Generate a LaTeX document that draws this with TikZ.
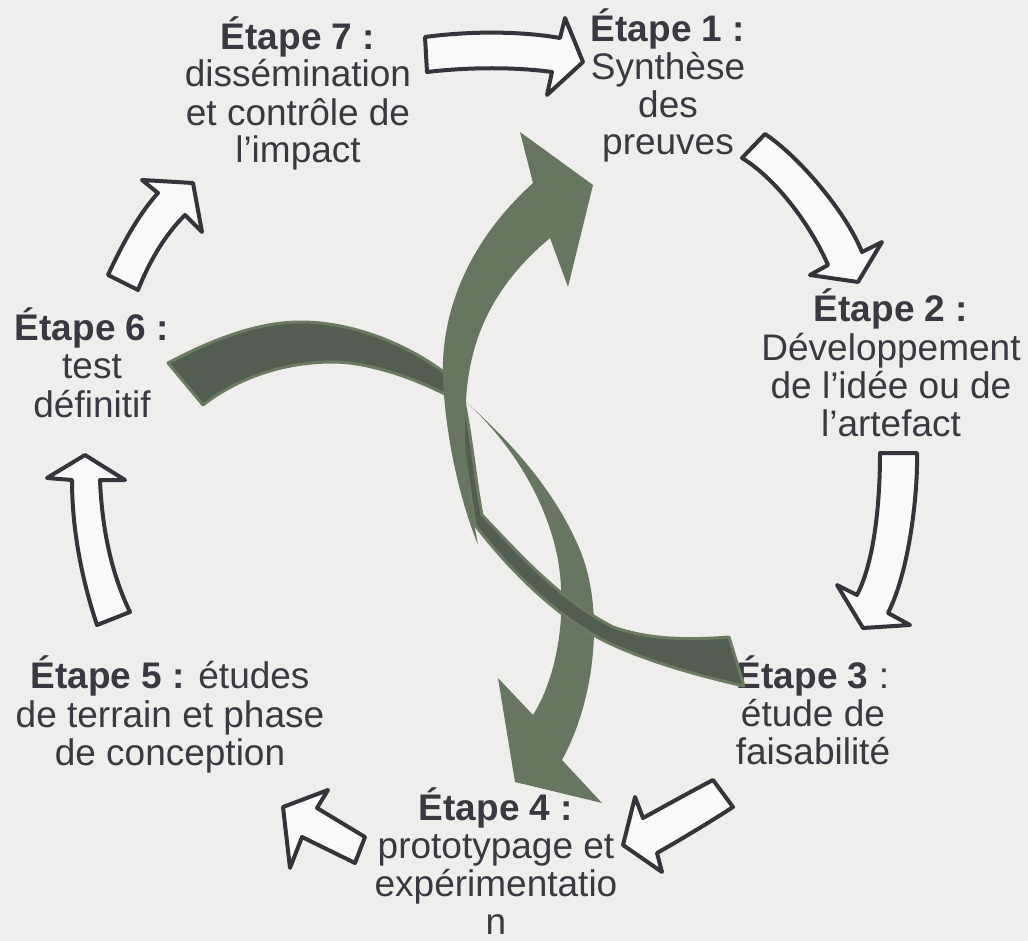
\documentclass[tikz,border=0pt]{standalone}
\usepackage{fontspec}
\setmainfont{Liberation Sans}
\definecolor{bgc}{RGB}{239,238,236}
\definecolor{txt}{RGB}{58,56,64}
\definecolor{arrline}{RGB}{54,52,58}
\definecolor{arrfill}{RGB}{249,249,249}
\definecolor{lgreen}{RGB}{102,118,96}
\definecolor{dgreen}{RGB}{82,94,79}
\definecolor{edgegreen}{RGB}{106,123,98}
\begin{document}
\begin{tikzpicture}[x=1pt,y=-1pt,
  lbl/.style={anchor=base,inner sep=0pt,text=txt,font=\fontsize{37}{38}\selectfont},
  blbl/.style={lbl,font=\fontsize{37}{38}\selectfont\bfseries},
  warrow/.style={draw=arrline,fill=arrfill,line width=4pt,line join=round},
  greenband/.style={fill=lgreen},
  ribbon/.style={fill=dgreen,draw=edgegreen,line width=3pt,line join=round}]
\useasboundingbox (0,0) rectangle (1028,941);
\fill[bgc] (0,0) rectangle (1028,941);

% Step 7
\node[blbl] (s7a) at (298,50) {Étape 7 :};
\node[lbl] (s7b) at (298,87) {dissémination};
\node[lbl] (s7c) at (298,126) {et contrôle de};
\node[lbl] (s7d) at (298,163) {l’impact};
% Step 1
\node[blbl] (s1a) at (668,42) {Étape 1 :};
\node[lbl] (s1b) at (668,80) {Synthèse};
\node[lbl] (s1c) at (668,118) {des};
\node[lbl] (s1d) at (668,155) {preuves};
% Step 2
\node[blbl] (s2a) at (891,322) {Étape 2 :};
\node[lbl] (s2b) at (891,360) {Développement};
\node[lbl] (s2c) at (891,398) {de l’idée ou de};
\node[lbl] (s2d) at (891,436) {l’artefact};
% Step 3
\node[lbl] (s3a) at (813,688) {{\bfseries Étape 3} :};
\node[lbl] (s3b) at (813,726) {étude de};
\node[lbl] (s3c) at (813,764) {faisabilité};
% Step 4
\node[blbl] (s4a) at (496,820) {Étape 4 :};
\node[lbl] (s4b) at (496,858) {prototypage et};
\node[lbl] (s4c) at (496,896) {expérimentatio};
\node[lbl] (s4d) at (496,934) {n};
% Step 5
\node[lbl] (s5a) at (170,688) {{\bfseries Étape 5 :} études};
\node[lbl] (s5b) at (170,727) {de terrain et phase};
\node[lbl] (s5c) at (170,765) {de conception};
% Step 6
\node[blbl] (s6a) at (92,340) {Étape 6 :};
\node[lbl] (s6b) at (92,378) {test};
\node[lbl] (s6c) at (92,417) {définitif};

% white cycle arrows
\draw[warrow] (425,37) .. controls (470,31) and (520,31) .. (560,38) -- (565,18) -- (583,62) -- (547,95) -- (552,72) .. controls (515,67) and (470,67) .. (427,72) -- cycle;
\draw[warrow] (765,134) .. controls (797,155) and (845,210) .. (862,252) -- (882,242) -- (858,282) -- (810,275) -- (828,265) .. controls (812,228) and (778,180) .. (742,158) -- cycle;
\draw[warrow] (917,453) .. controls (918,490) and (910,570) .. (888,613) -- (910,625) -- (863,628) -- (837,585) -- (857,595) .. controls (875,560) and (880,500) .. (880,453) -- cycle;
\draw[warrow] (713,780) .. controls (690,792) and (665,806) .. (643,818) -- (635,797) -- (623,845) -- (662,872) -- (657,853) .. controls (680,840) and (710,822) .. (733,807) -- cycle;
\draw[warrow] (365,837) -- (317,808) -- (328,790) -- (283,807) -- (290,868) -- (302,837) -- (355,863) -- cycle;
\draw[warrow] (85,455) -- (125,480) -- (100,480) .. controls (102,530) and (112,575) .. (130,612) -- (97,625) .. controls (82,580) and (72,530) .. (72,480) -- (47,478) -- cycle;
\draw[warrow] (193,183) -- (202,232) -- (185,215) .. controls (165,235) and (150,260) .. (138,290) -- (108,275) .. controls (122,245) and (138,215) .. (158,193) -- (142,180) -- cycle;

% green downward band (behind ribbon)
\fill[greenband] (533,715) -- (498,678) -- (515,782) -- (602,803) -- (562,760) .. controls (595,700) and (605,610) .. (580,550) .. controls (555,490) and (510,440) .. (458,395) .. controls (500,430) and (545,490) .. (558,560) .. controls (568,620) and (555,680) .. (533,715) -- cycle;

% dark twisted ribbon
\draw[ribbon] (168,363) .. controls (215,338) and (260,322) .. (300,322) .. controls (360,322) and (420,350) .. (460,385) .. controls (470,420) and (475,480) .. (482,515) .. controls (520,555) and (560,600) .. (613,627) .. controls (650,640) and (690,640) .. (729,637) -- (744,686) .. controls (700,676) and (640,660) .. (597,637) .. controls (550,610) and (510,570) .. (475,525) .. controls (468,480) and (462,430) .. (452,398) .. controls (420,380) and (370,362) .. (333,362) .. controls (280,362) and (235,380) .. (203,405) -- cycle;

% green upward band (in front)
\fill[greenband] (533,183) -- (520,132) -- (593,185) -- (568,287) -- (550,238) .. controls (500,280) and (470,330) .. (466,400) .. controls (462,440) and (468,490) .. (478,545) .. controls (460,500) and (446,440) .. (443,380) .. controls (440,310) and (470,240) .. (533,183) -- cycle;
\end{tikzpicture}
\end{document}
